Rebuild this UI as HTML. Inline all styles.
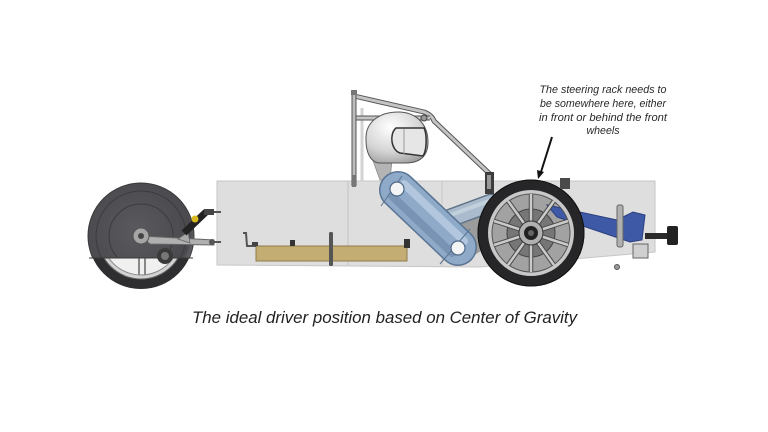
<!DOCTYPE html>
<html><head><meta charset="utf-8"><style>
html,body{margin:0;padding:0;background:#fff;}
svg{display:block}
</style></head><body>
<svg width="768" height="432" viewBox="0 0 768 432" xmlns="http://www.w3.org/2000/svg">
<defs>
  <radialGradient id="helm" cx="0.4" cy="0.3" r="0.8">
    <stop offset="0" stop-color="#ffffff"/>
    <stop offset="0.6" stop-color="#d4d4d4"/>
    <stop offset="1" stop-color="#9a9a9a"/>
  </radialGradient>
  <radialGradient id="disc" cx="0.45" cy="0.45" r="0.6">
    <stop offset="0" stop-color="#5a5a5e"/>
    <stop offset="0.85" stop-color="#4a4a4e"/>
    <stop offset="1" stop-color="#77777b"/>
  </radialGradient>
  <clipPath id="discclip"><rect x="80" y="170" width="130" height="88"/></clipPath>
</defs>

<!-- body panel -->
<polygon points="217,181 655,181 655,252 480,267 217,265" fill="#dedede" stroke="#c6c6c6" stroke-width="1"/>
<line x1="348" y1="181" x2="348" y2="265" stroke="#c2c2c2" stroke-width="1"/>
<line x1="442" y1="181" x2="442" y2="266" stroke="#c8c8c8" stroke-width="1"/>

<!-- battery -->
<rect x="256" y="246" width="151" height="15" fill="#c3ad72" stroke="#8d7c4b" stroke-width="1"/>
<path d="M243,233 L246,233 L247,246 L256,246" stroke="#555" stroke-width="2" fill="none"/>
<rect x="252" y="242" width="6" height="4" fill="#444"/>
<rect x="290" y="240" width="5" height="6" fill="#333"/>
<rect x="329" y="232" width="4" height="34" fill="#555" rx="1.5"/>
<rect x="404" y="239" width="6" height="9" fill="#333"/>

<!-- rear wheel -->
<circle cx="141" cy="236" r="53" fill="#2e2e30"/>
<circle cx="141" cy="236" r="43" fill="#d2d2d2" stroke="#666" stroke-width="1"/>
<circle cx="141" cy="236" r="39" fill="#f0f0f0" stroke="#888" stroke-width="1"/>
<line x1="139" y1="250" x2="139" y2="275" stroke="#888" stroke-width="2"/>
<line x1="145" y1="250" x2="145" y2="275" stroke="#888" stroke-width="2"/>
<g clip-path="url(#discclip)">
  <circle cx="141" cy="236" r="53" fill="url(#disc)" stroke="#3a3a3a" stroke-width="1"/>
  <circle cx="141" cy="236" r="45" fill="none" stroke="#3c3c3e" stroke-width="1"/>
  <circle cx="141" cy="236" r="32" fill="none" stroke="#3c3c3e" stroke-width="1"/>
</g>
<line x1="89" y1="258" x2="193" y2="258" stroke="#3a3a3a" stroke-width="1"/>
<circle cx="165" cy="256" r="8" fill="#3a3a3a"/>
<circle cx="165" cy="256" r="4" fill="#777"/>
<polygon points="141,236 214,240 214,245 150,244" fill="#b0b0b0" stroke="#666" stroke-width="1"/>
<polygon points="178,239 188,232 190,243" fill="#aaa" stroke="#666" stroke-width="0.8"/>
<circle cx="141" cy="236" r="8" fill="#a6a6a6" stroke="#555" stroke-width="1"/>
<circle cx="141" cy="236" r="3" fill="#444"/>
<line x1="184" y1="233" x2="206" y2="212" stroke="#222" stroke-width="7"/>
<circle cx="195" cy="219" r="3.5" fill="#d9b820"/>
<rect x="204" y="209" width="10" height="6" fill="#444"/>
<line x1="214" y1="212" x2="221" y2="212" stroke="#555" stroke-width="2"/>
<line x1="214" y1="242" x2="221" y2="242" stroke="#555" stroke-width="2"/>
<circle cx="212" cy="242" r="3" fill="#555"/>

<!-- roll hoop -->
<line x1="362" y1="108" x2="362" y2="182" stroke="#d2d2d2" stroke-width="3"/>
<path d="M354,96 L424,112 Q432,115 434,121 L492,176" stroke="#555" stroke-width="5" fill="none" stroke-linejoin="round"/>
<path d="M354,96 L424,112 Q432,115 434,121 L492,176" stroke="#c4c4c4" stroke-width="3" fill="none" stroke-linejoin="round"/>
<line x1="354" y1="118" x2="430" y2="118" stroke="#555" stroke-width="5"/>
<line x1="354" y1="118" x2="430" y2="118" stroke="#c4c4c4" stroke-width="3"/>
<circle cx="424" cy="118" r="3" fill="#999" stroke="#444" stroke-width="1"/>
<line x1="354" y1="91" x2="354" y2="186" stroke="#555" stroke-width="5"/>
<line x1="354" y1="91" x2="354" y2="186" stroke="#bdbdbd" stroke-width="3"/>
<rect x="351" y="90" width="6" height="5" fill="#777"/>
<rect x="352" y="175" width="4" height="12" fill="#777"/>

<!-- torso / seat -->
<polygon points="372,158 392,160 390,180 380,180" fill="#b4b4b4" stroke="#8a8a8a" stroke-width="0.8"/>

<!-- helmet -->
<path d="M366,140 C365,120 382,112 398,112 C416,112 428,124 428,142 C428,156 420,163 406,163 L378,163 C370,161 366,152 366,140 Z" fill="url(#helm)" stroke="#555" stroke-width="1"/>
<path d="M396,128 L424,128 C427,134 427,150 423,156 L400,153 C391,150 389,134 396,128 Z" fill="#e6e6e6" stroke="#333" stroke-width="1.5"/>
<line x1="404" y1="129" x2="404" y2="154" stroke="#999" stroke-width="1"/>

<!-- dark area behind legs -->
<polygon points="452,225 485,212 495,242 470,258" fill="#9c9c9c"/>

<!-- legs -->
<line x1="445" y1="220" x2="491" y2="203" stroke="#5f7488" stroke-width="19" stroke-linecap="round"/>
<line x1="445" y1="220" x2="491" y2="203" stroke="#a9bbcc" stroke-width="16" stroke-linecap="round"/>
<line x1="445" y1="217" x2="489" y2="201" stroke="#c2d0dc" stroke-width="4"/>
<line x1="398" y1="190" x2="458" y2="247" stroke="#5a7593" stroke-width="38" stroke-linecap="round"/>
<line x1="398" y1="190" x2="458" y2="247" stroke="#8fa9c8" stroke-width="35" stroke-linecap="round"/>
<line x1="404" y1="184" x2="464" y2="241" stroke="#b2c7de" stroke-width="8" stroke-linecap="round"/>
<line x1="392" y1="196" x2="452" y2="253" stroke="#7893b3" stroke-width="8" stroke-linecap="round"/>
<line x1="381" y1="206" x2="402" y2="176" stroke="#5a7593" stroke-width="1"/>
<line x1="440" y1="264" x2="470" y2="229" stroke="#5a7593" stroke-width="1"/>
<circle cx="397" cy="189" r="7" fill="#f2f4f6" stroke="#4f6885" stroke-width="1.2"/>
<circle cx="458" cy="248" r="7" fill="#f2f4f6" stroke="#4f6885" stroke-width="1.2"/>

<!-- front wheel interior -->
<circle cx="531" cy="233" r="43" fill="#a2a2a2"/>
<!-- blue frame -->
<polygon points="547,205 617,220 633,212 645,215 642,240 630,242 580,225 557,217" fill="#3e59a6" stroke="#2a3f80" stroke-width="1"/>
<!-- tire -->
<circle cx="531" cy="233" r="48" fill="none" stroke="#262628" stroke-width="11"/>
<circle cx="531" cy="233" r="53" fill="none" stroke="#111" stroke-width="1"/>
<circle cx="531" cy="233" r="41" fill="none" stroke="#c8c8c8" stroke-width="4"/>
<circle cx="531" cy="233" r="39" fill="none" stroke="#555" stroke-width="1"/>
<circle cx="531" cy="233" r="24" fill="#767676" stroke="#444" stroke-width="1"/>
<g stroke="#4a4a4a" stroke-width="4.5">
  <line x1="531" y1="233" x2="531" y2="194"/>
  <line x1="531" y1="233" x2="554" y2="201"/>
  <line x1="531" y1="233" x2="568" y2="221"/>
  <line x1="531" y1="233" x2="568" y2="245"/>
  <line x1="531" y1="233" x2="554" y2="265"/>
  <line x1="531" y1="233" x2="531" y2="272"/>
  <line x1="531" y1="233" x2="508" y2="265"/>
  <line x1="531" y1="233" x2="494" y2="245"/>
  <line x1="531" y1="233" x2="494" y2="221"/>
  <line x1="531" y1="233" x2="508" y2="201"/>
</g>
<g stroke="#cacaca" stroke-width="2.5">
  <line x1="531" y1="233" x2="531" y2="194"/>
  <line x1="531" y1="233" x2="554" y2="201"/>
  <line x1="531" y1="233" x2="568" y2="221"/>
  <line x1="531" y1="233" x2="568" y2="245"/>
  <line x1="531" y1="233" x2="554" y2="265"/>
  <line x1="531" y1="233" x2="531" y2="272"/>
  <line x1="531" y1="233" x2="508" y2="265"/>
  <line x1="531" y1="233" x2="494" y2="245"/>
  <line x1="531" y1="233" x2="494" y2="221"/>
  <line x1="531" y1="233" x2="508" y2="201"/>
</g>
<circle cx="531" cy="233" r="12" fill="#b0b0b0" stroke="#333" stroke-width="1"/>
<circle cx="531" cy="233" r="7" fill="#222"/>
<circle cx="531" cy="233" r="3" fill="#666"/>

<!-- brackets on top of front wheel -->
<rect x="485" y="172" width="9" height="22" fill="#3c3c3c"/>
<rect x="487" y="175" width="4" height="14" fill="#999"/>
<rect x="560" y="178" width="10" height="11" fill="#4a4a4a"/>

<!-- front right steering parts -->
<rect x="617" y="205" width="6" height="42" fill="#b0b0b0" stroke="#666" stroke-width="1" rx="2"/>
<rect x="633" y="244" width="15" height="14" fill="#cfcfcf" stroke="#666" stroke-width="1"/>
<rect x="645" y="233" width="22" height="6" fill="#2a2a2a"/>
<rect x="667" y="226" width="11" height="19" fill="#222" rx="2"/>
<circle cx="617" cy="267" r="2.5" fill="#999" stroke="#555" stroke-width="1"/>

<!-- annotation -->
<g font-family="'Liberation Sans', sans-serif" font-style="italic" font-size="11" fill="#2a2a2a" text-anchor="middle">
  <text x="603" y="93" textLength="127" lengthAdjust="spacingAndGlyphs">The steering rack needs to</text>
  <text x="603" y="107" textLength="126" lengthAdjust="spacingAndGlyphs">be somewhere here, either</text>
  <text x="603" y="121" textLength="128" lengthAdjust="spacingAndGlyphs">in front or behind the front</text>
  <text x="603" y="134" textLength="33" lengthAdjust="spacingAndGlyphs">wheels</text>
</g>
<line x1="552" y1="137" x2="541" y2="172" stroke="#111" stroke-width="2"/>
<polygon points="538,179 544,172 537,170" fill="#111"/>

<!-- caption -->
<text x="192" y="323" font-family="'Liberation Sans', sans-serif" font-style="italic" font-size="16.5" fill="#222" textLength="385" lengthAdjust="spacingAndGlyphs">The ideal driver position based on Center of Gravity</text>
</svg>
</body></html>
